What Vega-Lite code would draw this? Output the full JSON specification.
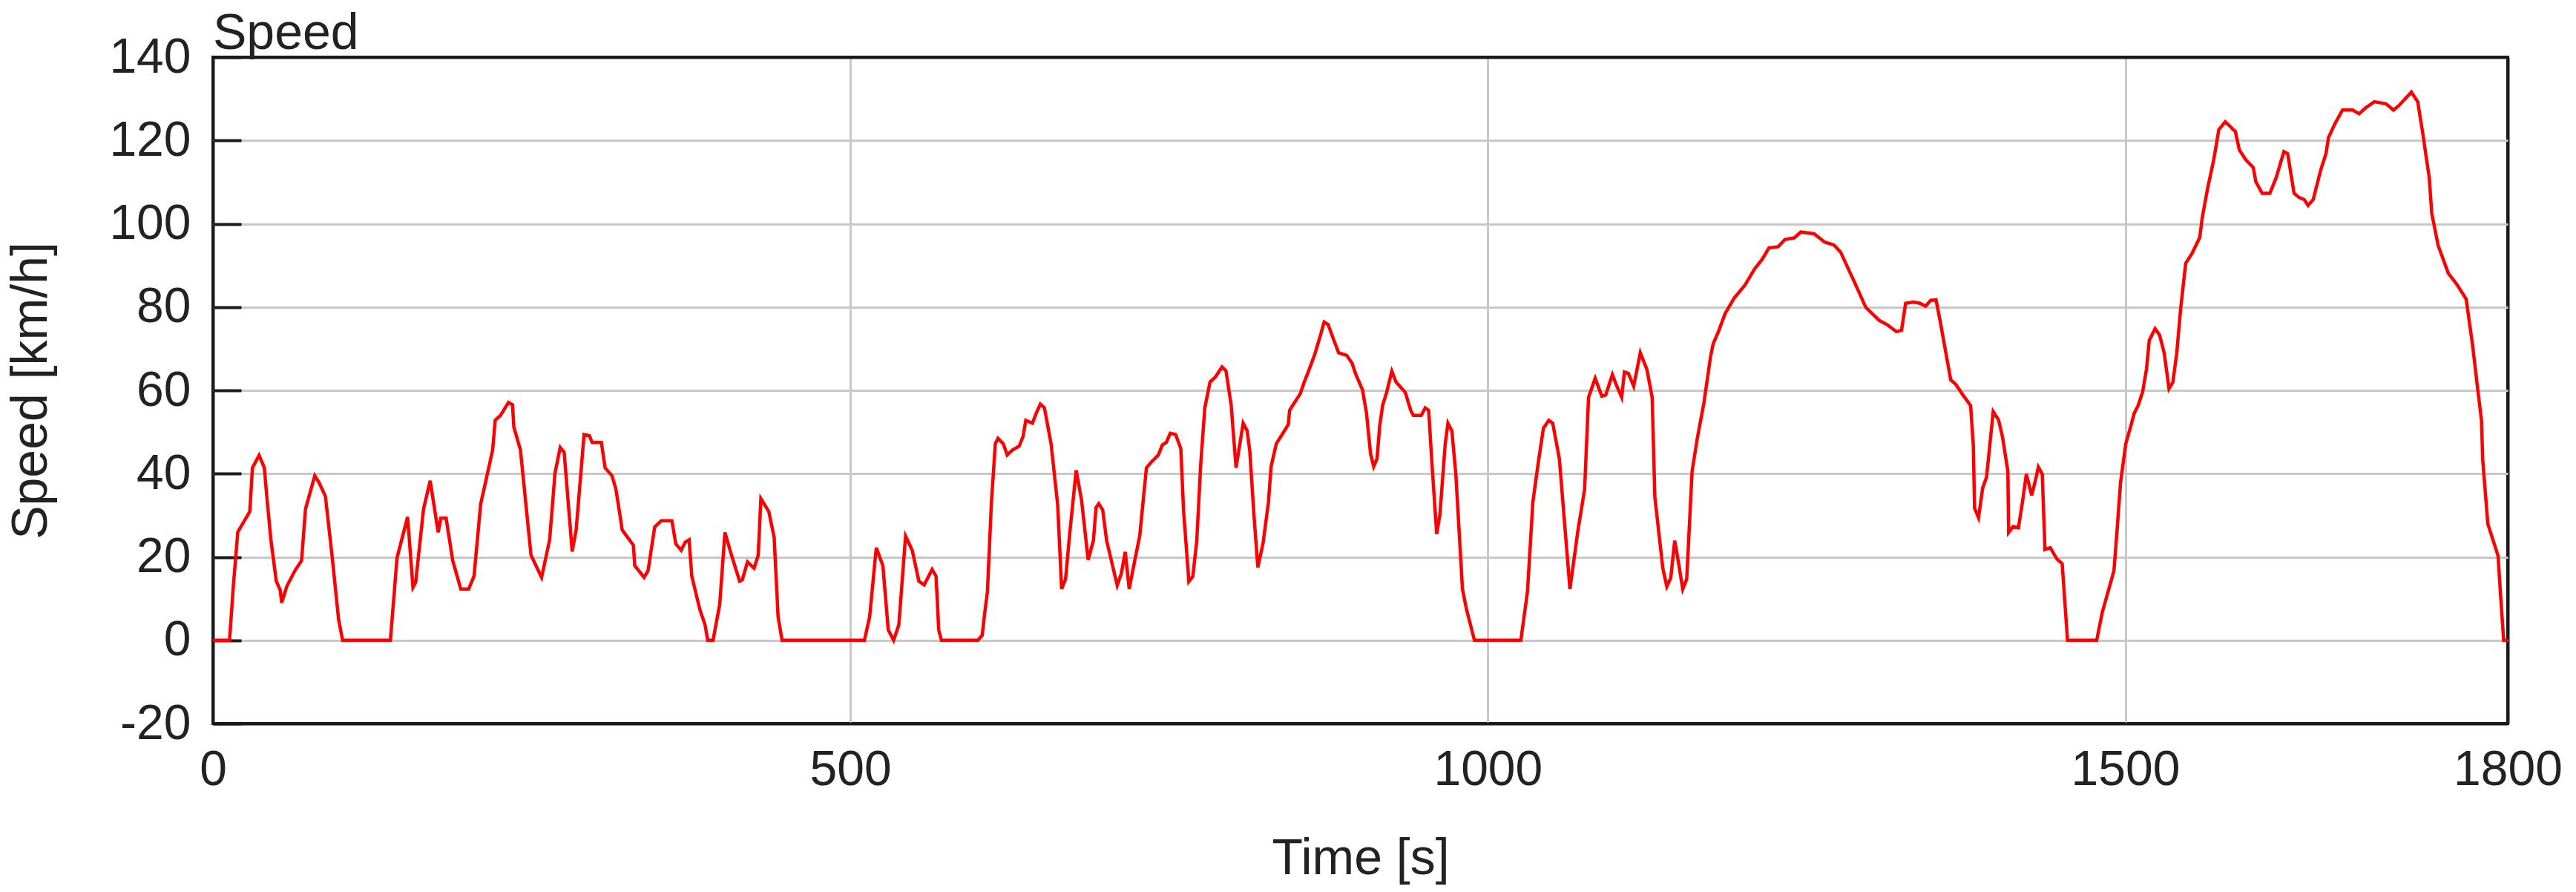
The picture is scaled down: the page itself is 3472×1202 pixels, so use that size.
{
  "$schema": "https://vega.github.io/schema/vega-lite/v6.json",
  "autosize": {"type": "none"},
  "width": 3093,
  "height": 898,
  "padding": {"left": 287, "top": 77, "right": 92, "bottom": 227},
  "background": "white",
  "title": {"text": "Speed", "anchor": "start", "frame": "group", "font": "Liberation Sans", "fontSize": 68, "fontWeight": "normal", "color": "#222222", "baseline": "bottom", "offset": 2, "dy": 106},
  "config": {
    "view": {"stroke": "#1a1a1a", "strokeWidth": 4},
    "axis": {"gridOpacity": 1, "domain": false, "labelFont": "Liberation Sans", "labelFontSize": 66, "labelColor": "#222222", "titleFont": "Liberation Sans", "titleFontSize": 68, "titleFontWeight": "normal", "titleColor": "#222222", "labelFlush": false, "labelExpr": "'' + datum.value"}
  },
  "data": {"values": [
    {"time":0,"speed":0},{"time":13,"speed":0},{"time":16,"speed":13},{"time":19.5,"speed":26},{"time":24.7,"speed":28.7},{"time":28.9,"speed":30.9},{"time":31,"speed":41.4},{"time":36.2,"speed":44.4},{"time":40.3,"speed":41.4},{"time":42.4,"speed":34},{"time":45.5,"speed":24},{"time":49.7,"speed":14.2},{"time":52.8,"speed":12},{"time":53.9,"speed":9},{"time":58,"speed":13},{"time":64.3,"speed":16.7},{"time":69.5,"speed":19.1},{"time":72.6,"speed":31.5},{"time":79.9,"speed":39.5},{"time":83,"speed":38},{"time":88.2,"speed":34.6},{"time":93.4,"speed":20.4},{"time":98.6,"speed":4.9},{"time":101.7,"speed":0},{"time":139.2,"speed":0},{"time":144.4,"speed":19.8},{"time":152.7,"speed":29.6},{"time":156.9,"speed":12.7},{"time":159,"speed":13.9},{"time":165.2,"speed":31.5},{"time":170.4,"speed":38.3},{"time":176.7,"speed":25.9},{"time":178.7,"speed":29.3},{"time":182.9,"speed":29.3},{"time":188.1,"speed":19.1},{"time":194.4,"speed":12.3},{"time":200.6,"speed":12.3},{"time":204.8,"speed":15.4},{"time":210,"speed":32.7},{"time":214.1,"speed":38.3},{"time":219.4,"speed":45.7},{"time":221.4,"speed":52.8},{"time":225.6,"speed":54},{"time":231.8,"speed":57.1},{"time":235,"speed":56.5},{"time":236,"speed":51.2},{"time":241.2,"speed":45.7},{"time":249.5,"speed":20.4},{"time":257.8,"speed":15.1},{"time":264.1,"speed":24.1},{"time":268.3,"speed":40.1},{"time":272.4,"speed":46.3},{"time":275.5,"speed":45.1},{"time":281.8,"speed":21.3},{"time":284.9,"speed":26.5},{"time":291.1,"speed":49.4},{"time":295.3,"speed":49.1},{"time":297.4,"speed":47.5},{"time":304.7,"speed":47.5},{"time":307.6,"speed":41.4},{"time":313,"speed":39.5},{"time":316,"speed":36.4},{"time":319.3,"speed":30},{"time":321,"speed":26.5},{"time":329.8,"speed":22.8},{"time":330.9,"speed":17.9},{"time":338.2,"speed":15.1},{"time":341.3,"speed":16.7},{"time":346.5,"speed":27.2},{"time":351.7,"speed":28.7},{"time":360,"speed":28.7},{"time":363.1,"speed":23.1},{"time":367.3,"speed":21.6},{"time":370.4,"speed":23.5},{"time":373.5,"speed":24.1},{"time":375.6,"speed":15.4},{"time":381.9,"speed":7.4},{"time":386,"speed":3.7},{"time":388.1,"speed":0},{"time":392.3,"speed":0},{"time":397.5,"speed":8.6},{"time":401.6,"speed":25.9},{"time":406.8,"speed":20.4},{"time":413.1,"speed":14.2},{"time":415.2,"speed":14.5},{"time":419.3,"speed":18.8},{"time":424.5,"speed":17.3},{"time":427.7,"speed":20.4},{"time":429.8,"speed":34},{"time":436,"speed":30.9},{"time":440.2,"speed":24.7},{"time":443.3,"speed":5.6},{"time":446.4,"speed":0},{"time":511,"speed":0},{"time":515.1,"speed":5.6},{"time":520.3,"speed":22.2},{"time":525.5,"speed":17.9},{"time":529.7,"speed":2.5},{"time":533.9,"speed":0},{"time":538,"speed":3.7},{"time":543.3,"speed":25},{"time":548.5,"speed":21.6},{"time":553.7,"speed":14.2},{"time":557.9,"speed":13.3},{"time":564.1,"speed":17},{"time":567.2,"speed":15.4},{"time":569.3,"speed":2.5},{"time":571.4,"speed":0},{"time":600,"speed":0},{"time":603.4,"speed":1.2},{"time":605,"speed":5.6},{"time":607.5,"speed":11.7},{"time":610.6,"speed":33},{"time":613.7,"speed":47.2},{"time":615.8,"speed":48.5},{"time":619.9,"speed":47.2},{"time":623,"speed":44.5},{"time":627.2,"speed":45.7},{"time":632.4,"speed":46.6},{"time":635.5,"speed":49},{"time":637.6,"speed":52.8},{"time":642.8,"speed":52.1},{"time":645.9,"speed":54.6},{"time":649,"speed":56.7},{"time":652.2,"speed":55.8},{"time":657.4,"speed":47.2},{"time":662.6,"speed":32.5},{"time":665.7,"speed":12.3},{"time":668.8,"speed":14.7},{"time":671.9,"speed":25.2},{"time":677.1,"speed":40.8},{"time":681.3,"speed":33.7},{"time":686.5,"speed":19.3},{"time":690.6,"speed":23.9},{"time":692.7,"speed":31.9},{"time":694.8,"speed":32.8},{"time":697.9,"speed":31.3},{"time":701,"speed":23.9},{"time":709.3,"speed":13.2},{"time":712.5,"speed":16},{"time":715.6,"speed":21.2},{"time":718.7,"speed":12.3},{"time":721.8,"speed":17.2},{"time":727,"speed":25.2},{"time":732.2,"speed":41.4},{"time":736.4,"speed":42.9},{"time":741.6,"speed":44.5},{"time":744.7,"speed":46.9},{"time":747.8,"speed":47.5},{"time":750.9,"speed":49.7},{"time":755.1,"speed":49.4},{"time":759.2,"speed":46},{"time":761.3,"speed":31.3},{"time":765.5,"speed":14.1},{"time":768.6,"speed":15.3},{"time":771.7,"speed":23.9},{"time":774.8,"speed":42.3},{"time":778,"speed":55.8},{"time":782.1,"speed":62},{"time":786.3,"speed":63.2},{"time":791.5,"speed":65.6},{"time":794.6,"speed":64.7},{"time":798.7,"speed":56.4},{"time":802.5,"speed":41.4},{"time":808.1,"speed":52.1},{"time":811.2,"speed":50.3},{"time":813.3,"speed":45.4},{"time":816.4,"speed":30.7},{"time":819.6,"speed":17.5},{"time":823.7,"speed":23.3},{"time":827.9,"speed":33.1},{"time":830,"speed":41.7},{"time":834.1,"speed":47.2},{"time":839.3,"speed":49.7},{"time":843.5,"speed":51.8},{"time":844.5,"speed":55.2},{"time":849.7,"speed":57.7},{"time":852.9,"speed":59.2},{"time":856,"speed":62},{"time":859.1,"speed":64.4},{"time":864.3,"speed":68.7},{"time":868.5,"speed":73},{"time":871.6,"speed":76.4},{"time":874.7,"speed":75.8},{"time":879.9,"speed":71.5},{"time":883,"speed":69},{"time":889.3,"speed":68.4},{"time":893.4,"speed":66.6},{"time":896.5,"speed":63.8},{"time":901.7,"speed":60.1},{"time":904.8,"speed":54.6},{"time":908,"speed":44.8},{"time":910.5,"speed":41.7},{"time":913.1,"speed":43.6},{"time":915.2,"speed":51.5},{"time":917.5,"speed":56.4},{"time":920.6,"speed":59.5},{"time":924.7,"speed":64.6},{"time":928,"speed":62},{"time":935.3,"speed":59.5},{"time":939.5,"speed":55.2},{"time":941.6,"speed":54},{"time":947.8,"speed":54},{"time":950.9,"speed":55.8},{"time":953.6,"speed":55.2},{"time":956.2,"speed":42.3},{"time":959.9,"speed":25.5},{"time":962.4,"speed":30.1},{"time":966.6,"speed":47.2},{"time":968.7,"speed":52.1},{"time":971.8,"speed":50.3},{"time":974.9,"speed":39.9},{"time":980.1,"speed":12.3},{"time":983.3,"speed":7.4},{"time":989.5,"speed":0},{"time":1025.9,"speed":0},{"time":1031.1,"speed":11.7},{"time":1035.3,"speed":33.1},{"time":1039.4,"speed":42.3},{"time":1043.6,"speed":50.9},{"time":1047.8,"speed":52.8},{"time":1050.9,"speed":52.1},{"time":1056.1,"speed":43.6},{"time":1064.4,"speed":12.3},{"time":1070.7,"speed":26.4},{"time":1075.9,"speed":36.2},{"time":1079,"speed":58.3},{"time":1084.2,"speed":62.9},{"time":1089.4,"speed":58.6},{"time":1092.5,"speed":58.9},{"time":1097.7,"speed":63.8},{"time":1100.8,"speed":61.3},{"time":1105,"speed":58.3},{"time":1107.1,"speed":64.4},{"time":1110.2,"speed":64.1},{"time":1114.4,"speed":61},{"time":1119.6,"speed":69},{"time":1124.8,"speed":65},{"time":1128.9,"speed":58.3},{"time":1131,"speed":34.4},{"time":1137.3,"speed":17.2},{"time":1140.4,"speed":12.9},{"time":1143.5,"speed":15},{"time":1146.6,"speed":23.9},{"time":1148.7,"speed":20.2},{"time":1152.9,"speed":12.3},{"time":1156,"speed":14.7},{"time":1160.2,"speed":40.5},{"time":1164.3,"speed":48.5},{"time":1169.5,"speed":57},{"time":1174.7,"speed":68.1},{"time":1176.8,"speed":71.2},{"time":1181,"speed":74.2},{"time":1186.2,"speed":78.5},{"time":1193.4,"speed":82.2},{"time":1201.8,"speed":85.3},{"time":1209.1,"speed":89.1},{"time":1215.3,"speed":91.5},{"time":1220.5,"speed":94.2},{"time":1227.8,"speed":94.5},{"time":1233,"speed":96.2},{"time":1240.3,"speed":96.6},{"time":1245.5,"speed":98},{"time":1255.9,"speed":97.6},{"time":1264.2,"speed":95.6},{"time":1271.5,"speed":94.9},{"time":1276.7,"speed":93.2},{"time":1287.1,"speed":86.3},{"time":1296.5,"speed":79.9},{"time":1306.9,"speed":76.8},{"time":1313.1,"speed":75.8},{"time":1320.4,"speed":74.1},{"time":1324.5,"speed":74.4},{"time":1327.7,"speed":80.9},{"time":1333.9,"speed":81.2},{"time":1339.1,"speed":80.9},{"time":1343.3,"speed":80.2},{"time":1347.4,"speed":81.6},{"time":1351.6,"speed":81.7},{"time":1354.7,"speed":76.8},{"time":1363.1,"speed":62.5},{"time":1367.2,"speed":61.4},{"time":1372.4,"speed":59},{"time":1375.5,"speed":57.7},{"time":1378.7,"speed":56.3},{"time":1380.8,"speed":46.8},{"time":1381.8,"speed":31.7},{"time":1384.9,"speed":29.4},{"time":1388.1,"speed":36.5},{"time":1391.2,"speed":39.2},{"time":1396.4,"speed":54.9},{"time":1400.6,"speed":52.9},{"time":1403.7,"speed":48.8},{"time":1407.9,"speed":40.6},{"time":1408.5,"speed":25.9},{"time":1412,"speed":27.3},{"time":1416.2,"speed":27},{"time":1419.3,"speed":33.1},{"time":1422.4,"speed":39.9},{"time":1426.6,"speed":34.8},{"time":1429.7,"speed":38.6},{"time":1431.8,"speed":41.6},{"time":1434.9,"speed":39.9},{"time":1437,"speed":21.8},{"time":1441.2,"speed":22.2},{"time":1446.4,"speed":19.5},{"time":1450.5,"speed":18.4},{"time":1452.6,"speed":9.2},{"time":1454.7,"speed":0},{"time":1477.6,"speed":0},{"time":1481.8,"speed":6.5},{"time":1491.1,"speed":16.7},{"time":1493.2,"speed":24.9},{"time":1496.3,"speed":37.9},{"time":1500.4,"speed":47.2},{"time":1504.5,"speed":51.6},{"time":1507,"speed":54.5},{"time":1510,"speed":56.3},{"time":1513.6,"speed":59.6},{"time":1516.7,"speed":65.2},{"time":1518.8,"speed":72},{"time":1523.4,"speed":74.8},{"time":1526.9,"speed":73.3},{"time":1530.5,"speed":69},{"time":1534.3,"speed":60.4},{"time":1537.3,"speed":61.9},{"time":1540.4,"speed":69},{"time":1543.4,"speed":79.5},{"time":1547.4,"speed":90.5},{"time":1552.4,"speed":92.9},{"time":1558.4,"speed":96.7},{"time":1560.4,"speed":101.5},{"time":1564.4,"speed":108.2},{"time":1569.4,"speed":115.4},{"time":1573.4,"speed":122.6},{"time":1578.4,"speed":124.5},{"time":1586.4,"speed":122.1},{"time":1589.4,"speed":117.8},{"time":1594.4,"speed":115.4},{"time":1600.4,"speed":113.5},{"time":1602.4,"speed":110.1},{"time":1607.4,"speed":107.3},{"time":1613.4,"speed":107.3},{"time":1618.4,"speed":111.1},{"time":1624.4,"speed":117.3},{"time":1627.4,"speed":116.8},{"time":1632.4,"speed":107.3},{"time":1636.4,"speed":106.3},{"time":1640.4,"speed":105.8},{"time":1643.4,"speed":104.4},{"time":1647.4,"speed":105.8},{"time":1653.4,"speed":113},{"time":1657.4,"speed":116.8},{"time":1659.4,"speed":120.7},{"time":1664.4,"speed":124},{"time":1670.4,"speed":127.3},{"time":1678.4,"speed":127.3},{"time":1683.4,"speed":126.4},{"time":1688.4,"speed":127.8},{"time":1695.4,"speed":129.3},{"time":1704.4,"speed":128.8},{"time":1710.4,"speed":127.3},{"time":1714.4,"speed":128.3},{"time":1724.4,"speed":131.6},{"time":1729.4,"speed":129.3},{"time":1733.4,"speed":121.6},{"time":1738.4,"speed":111.1},{"time":1740.4,"speed":102.5},{"time":1745.4,"speed":94.8},{"time":1753.4,"speed":88.1},{"time":1760.4,"speed":85.3},{"time":1767.4,"speed":81.9},{"time":1772.4,"speed":70.9},{"time":1776.4,"speed":60.4},{"time":1779.4,"speed":52.8},{"time":1780.4,"speed":43.2},{"time":1784.4,"speed":27.9},{"time":1792.4,"speed":20.3},{"time":1794.4,"speed":10.7},{"time":1796.8,"speed":0},{"time":1800,"speed":0}
  ]},
  "mark": {"type": "line", "color": "#ff0000", "strokeWidth": 4.5, "clip": true},
  "encoding": {
    "x": {"field": "time", "type": "quantitative", "sort": null,
      "scale": {"domain": [0, 1800], "nice": false, "zero": false},
      "axis": {"values": [0, 500, 1000, 1500, 1800], "ticks": false, "labelPadding": 30, "title": "Time [s]", "titleAnchor": "middle", "titleBaseline": "alphabetic", "titleY": 202, "titleX": 1546.5, "titleAlign": "center",
        "gridColor": {"condition": {"test": "datum.value == 0 || datum.value == 1800", "value": "#1a1a1a"}, "value": "#c8c8c8"},
        "gridWidth": {"condition": {"test": "datum.value == 0 || datum.value == 1800", "value": 4}, "value": 3}}},
    "y": {"field": "speed", "type": "quantitative",
      "scale": {"domain": [-20, 140], "nice": false, "zero": false},
      "axis": {"values": [-20, 0, 20, 40, 60, 80, 100, 120, 140], "tickSize": -38, "tickWidth": 4, "tickColor": "#1a1a1a", "labelPadding": 68, "title": "Speed [km/h]", "titleAngle": -90, "titleBaseline": "alphabetic", "titleAlign": "center", "titleX": -225, "titleY": 449,
        "gridColor": {"condition": {"test": "datum.value == -20 || datum.value == 140", "value": "#1a1a1a"}, "value": "#c8c8c8"},
        "gridWidth": {"condition": {"test": "datum.value == -20 || datum.value == 140", "value": 4}, "value": 3}}}
  }
}
